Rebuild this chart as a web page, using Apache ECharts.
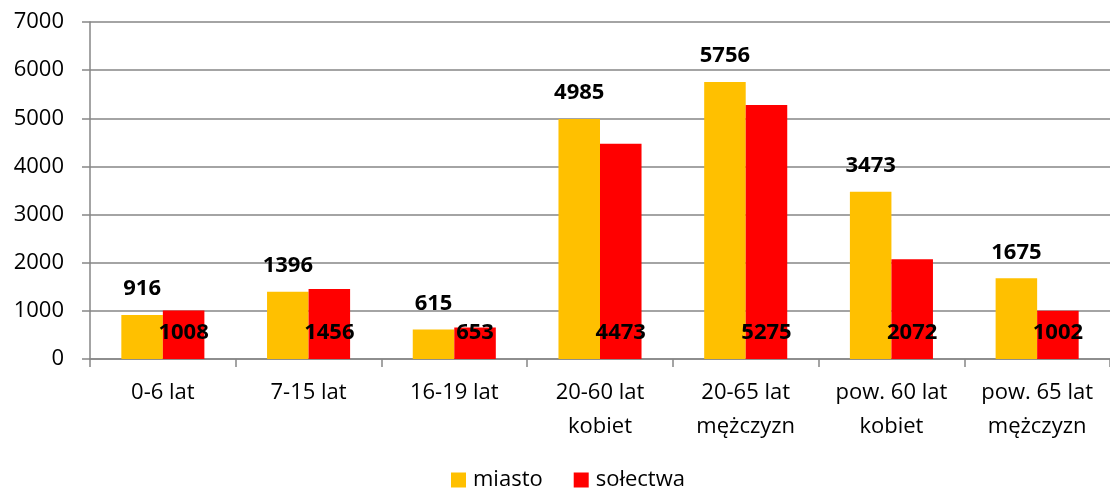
<!DOCTYPE html>
<html>
<head>
    <meta charset="UTF-8">
    <title>Ludność</title>
    <script type="text/javascript" src="https://cdn.jsdelivr.net/npm/echarts@6/dist/echarts.min.js"></script>
</head>
<body style="margin:0; background-color:#ffffff;">
    <div id="chart" style="width:1110px; height:491px;"></div>
    <script>
        // dane
        var categories = ['0-6 lat', '7-15 lat', '16-19 lat', '20-60 lat\nkobiet', '20-65 lat\nmężczyzn', 'pow. 60 lat\nkobiet', 'pow. 65 lat\nmężczyzn'];
        var miasto = [916, 1396, 615, 4985, 5756, 3473, 1675];
        var solectwa = [1008, 1456, 653, 4473, 5275, 2072, 1002];
        var seriesNames = ['miasto', 'sołectwa'];

        var font = '"Open Sans", "Noto Sans", sans-serif';
        var chart = echarts.init(document.getElementById('chart'), null, {renderer: 'canvas'});
        var option = {
            animation: false,
            textStyle: {fontFamily: font},
            grid: {left: 90, right: -6, top: 22, bottom: 132},
            legend: {
                data: seriesNames,
                top: 464,
                left: 446,
                padding: [5, 5, 0, 5],
                icon: 'rect',
                itemWidth: 15,
                itemHeight: 15,
                itemGap: 31,
                textStyle: {color: '#000', fontSize: 22, fontFamily: font, padding: [0, 0, 0, 2]}
            },
            xAxis: {
                type: 'category',
                data: categories,
                axisLine: {lineStyle: {color: '#868686', width: 1.5}},
                axisTick: {show: true, length: 8, lineStyle: {color: '#868686', width: 1.5}},
                axisLabel: {color: '#000', fontSize: 22, fontFamily: font, lineHeight: 34, margin: 17, interval: 0}
            },
            yAxis: {
                type: 'value',
                min: 0,
                max: 7000,
                interval: 1000,
                axisLine: {show: true, lineStyle: {color: '#868686', width: 1.5}},
                axisTick: {show: true, length: 8, lineStyle: {color: '#868686', width: 1.5}},
                axisLabel: {color: '#000', fontSize: 22, fontFamily: font, margin: 26, formatter: function (v) { return String(v); }},
                splitLine: {lineStyle: {color: '#868686', width: 1.5}}
            },
            series: [
                {
                    name: seriesNames[0],
                    type: 'bar',
                    data: miasto,
                    barGap: '0%',
                    barCategoryGap: '43%',
                    itemStyle: {color: '#ffc000'},
                    label: {show: true, position: 'top', distance: 15, color: '#000', fontWeight: 'bold', fontSize: 22, fontFamily: font}
                },
                {
                    name: seriesNames[1],
                    type: 'bar',
                    data: solectwa,
                    itemStyle: {color: '#ff0000'},
                    label: {show: true, position: 'insideBottom', distance: 15, color: '#000', fontWeight: 'bold', fontSize: 22, fontFamily: font}
                }
            ]
        };
        chart.setOption(option);
    </script>
</body>
</html>
